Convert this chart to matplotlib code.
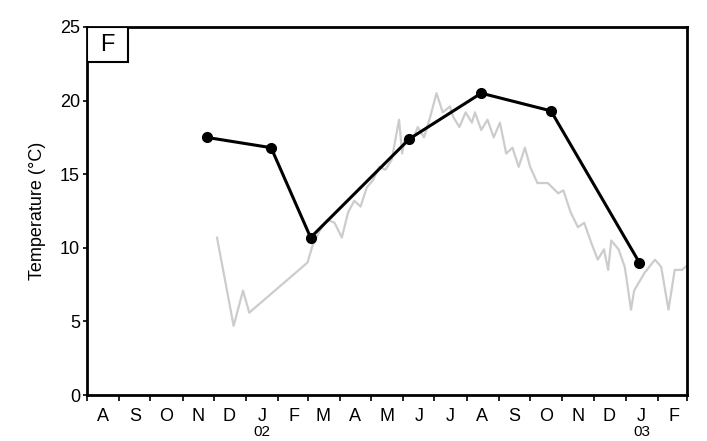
import matplotlib
matplotlib.use('Agg')
import matplotlib.pyplot as plt
import matplotlib.dates as mdates
from matplotlib.patches import Rectangle
import numpy as np
from datetime import date

plt.rcParams['font.family'] = ['Liberation Sans', 'DejaVu Sans']

# Monthly sampled temperatures (black)
sample_dates = ['2001-11-24', '2002-01-25', '2002-03-04', '2002-06-07',
                '2002-08-15', '2002-10-21', '2003-01-14']
sample_temp = [17.5, 16.8, 10.7, 17.4, 20.5, 19.3, 9.0]

# Continuous logger temperatures (grey)
logger_dates = ['2001-12-04', '2001-12-20', '2001-12-29', '2002-01-04', '2002-03-01',
                '2002-03-06', '2002-03-13', '2002-03-20', '2002-03-27', '2002-04-03',
                '2002-04-09', '2002-04-15', '2002-04-21', '2002-04-27', '2002-05-03',
                '2002-05-09', '2002-05-15', '2002-05-21', '2002-05-28', '2002-05-31',
                '2002-06-02', '2002-06-09', '2002-06-15', '2002-06-21', '2002-06-27',
                '2002-07-03', '2002-07-09', '2002-07-16', '2002-07-19', '2002-07-25',
                '2002-07-31', '2002-08-06', '2002-08-09', '2002-08-15', '2002-08-21',
                '2002-08-27', '2002-09-02', '2002-09-08', '2002-09-14', '2002-09-20',
                '2002-09-26', '2002-10-01', '2002-10-08', '2002-10-18', '2002-10-28',
                '2002-11-02', '2002-11-09', '2002-11-16', '2002-11-22', '2002-11-29',
                '2002-12-05', '2002-12-11', '2002-12-15', '2002-12-18', '2002-12-25',
                '2002-12-31', '2003-01-06', '2003-01-09', '2003-01-19', '2003-01-29',
                '2003-02-04', '2003-02-11', '2003-02-17', '2003-02-24', '2003-03-01']
logger_temp = [10.7, 4.7, 7.1, 5.6, 9.0,
               10.2, 11.2, 11.9, 11.7, 10.7,
               12.4, 13.2, 12.8, 14.1, 14.6,
               15.5, 15.3, 16.0, 18.7, 16.4,
               17.3, 17.1, 18.2, 17.5, 18.9,
               20.5, 19.2, 19.6, 18.9, 18.2,
               19.2, 18.5, 19.2, 18.0, 18.7,
               17.5, 18.5, 16.4, 16.8, 15.5,
               16.8, 15.5, 14.4, 14.4, 13.7,
               13.9, 12.4, 11.4, 11.7, 10.3,
               9.2, 9.9, 8.5, 10.5, 9.9,
               8.7, 5.8, 7.1, 8.3, 9.2,
               8.7, 5.8, 8.5, 8.5, 8.8]

month_letters = ['A', 'S', 'O', 'N', 'D', 'J', 'F', 'M', 'A', 'M',
                 'J', 'J', 'A', 'S', 'O', 'N', 'D', 'J', 'F']
year_labels = {'2002-01-16': '02', '2003-01-16': '03'}

s_dates = [np.datetime64(d) for d in sample_dates]
l_dates = [np.datetime64(d) for d in logger_dates]

fig = plt.figure(figsize=(7.07, 4.41), dpi=100)
ax = fig.add_axes([0.123, 0.104, 0.849, 0.835])

ax.plot(l_dates, logger_temp, color='#cbcdcd', lw=1.6, zorder=1)
ax.plot(s_dates, sample_temp, color='black', lw=2.2, marker='o', ms=7, zorder=2)

ax.set_xlim(date(2001, 8, 1), date(2003, 3, 1))
ax.set_ylim(0, 25)
ax.set_yticks([0, 5, 10, 15, 20, 25])
ax.tick_params(axis='y', labelsize=13, length=3, width=1.2, direction='out', pad=2)

# month boundaries as ticks, letters at mid-month
ax.xaxis.set_major_locator(mdates.MonthLocator())
ax.xaxis.set_major_formatter(plt.NullFormatter())
ax.xaxis.set_minor_locator(mdates.MonthLocator(bymonthday=16))
ax.xaxis.set_minor_formatter(plt.NullFormatter())
ax.tick_params(axis='x', which='major', length=4, width=1.2, direction='out')
ax.tick_params(axis='x', which='minor', length=0)

mids = [date(2001 + (7 + i) // 12, (7 + i) % 12 + 1, 16) for i in range(len(month_letters))]
for d, lab in zip(mids, month_letters):
    ax.text(mdates.date2num(d), -0.035, lab, transform=ax.get_xaxis_transform(),
            ha='center', va='top', fontsize=13)
for d, lab in year_labels.items():
    ax.text(mdates.date2num(np.datetime64(d).astype(object)), -0.119, lab,
            transform=ax.get_xaxis_transform(), ha='center', va='bottom', fontsize=11)

for sp in ax.spines.values():
    sp.set_linewidth(2)

ax.set_ylabel('Temperature (°C)', fontsize=13, labelpad=10)

# panel letter box
ax.add_patch(Rectangle((0, 0.905), 0.068, 0.095, transform=ax.transAxes,
                       facecolor='white', edgecolor='black', lw=1.5, zorder=3))
ax.text(0.034, 0.952, 'F', transform=ax.transAxes, ha='center', va='center',
        fontsize=17, zorder=4)

fig.savefig('out.png', dpi=100)
